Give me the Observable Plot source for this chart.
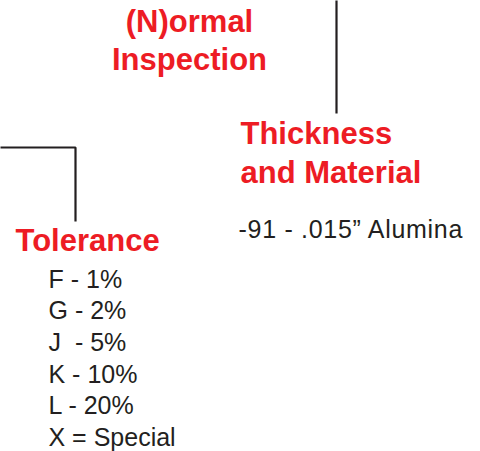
<!DOCTYPE html>
<html>
<head>
<meta charset="utf-8">
<script src="https://cdn.jsdelivr.net/npm/d3@7"></script>
<script src="https://cdn.jsdelivr.net/npm/@observablehq/plot@0.6"></script>
<style>
  html, body { margin: 0; padding: 0; background: #fff; }
  svg text { white-space: pre; }
</style>
</head>
<body>
<div id="chart"></div>
<script>
// ---- content (text only) ----
const inspectionLabel = ["(N)ormal", "Inspection"];
const thicknessLabel = ["Thickness", "and Material"];
const thicknessOptions = ["-91 - .015\u201D Alumina"];
const toleranceLabel = ["Tolerance"];
const toleranceCodes = ["F - 1%", "G - 2%", "J  - 5%", "K - 10%", "L - 20%", "X = Special"];

// ---- layout (positions in page pixels) ----
const layout = {
  inspection: {x: 189, y0: 31, step: 38.5},
  thickness: {x: 240, y0: 143, step: 39},
  thicknessOpt: {x: 238, y0: 237, step: 32},
  tolerance: {x: 15, y0: 250, step: 32},
  toleranceList: {x: 48, y0: 287, step: 31.7},
  connectors: [
    [[336, 0], [336, 113]],
    [[0, 147], [75, 147], [75, 221]]
  ]
};

const RED = "#ed1c24";
const INK = "#231f20";

function rows(lines, pos) {
  return lines.map((t, i) => ({text: t, x: pos.x, y: pos.y0 + i * pos.step}));
}
const centeredHeadings = rows(inspectionLabel, layout.inspection);
const leftHeadings = [
  ...rows(thicknessLabel, layout.thickness),
  ...rows(toleranceLabel, layout.tolerance)
];
const optionRows = rows(thicknessOptions, layout.thicknessOpt);
const listRows = rows(toleranceCodes, layout.toleranceList);
const connectorPts = layout.connectors.flatMap((seg, k) => seg.map(([x, y]) => ({x, y, k})));

const W = 480, H = 451;
const chart = Plot.plot({
  width: W,
  height: H,
  margin: 0,
  x: {domain: [0, W], range: [0, W], axis: null},
  y: {domain: [0, H], range: [0, H], axis: null},
  style: {fontFamily: "'Liberation Sans', Arial, Helvetica, sans-serif", background: "#fff"},
  marks: [
    Plot.line(connectorPts, {x: "x", y: "y", z: "k", stroke: INK, strokeWidth: 2.2, strokeLinejoin: "miter", strokeLinecap: "butt"}),
    Plot.text(centeredHeadings, {x: "x", y: "y", text: "text", textAnchor: "middle", lineAnchor: "bottom", fill: RED, fontSize: 31, fontWeight: "bold"}),
    Plot.text(leftHeadings, {x: "x", y: "y", text: "text", textAnchor: "start", lineAnchor: "bottom", fill: RED, fontSize: 31, fontWeight: "bold"}),
    Plot.text(optionRows, {x: "x", y: "y", text: "text", textAnchor: "start", lineAnchor: "bottom", fill: INK, fontSize: 25}),
    Plot.text(listRows, {x: "x", y: "y", text: "text", textAnchor: "start", lineAnchor: "bottom", fill: INK, fontSize: 25})
  ]
});
// widen the thickness option line slightly to match the reference's set width
d3.select(chart).selectAll("text")
  .filter(function () { return this.textContent === thicknessOptions[0]; })
  .attr("letter-spacing", "0.7px");
document.getElementById("chart").appendChild(chart);
</script>
</body>
</html>
